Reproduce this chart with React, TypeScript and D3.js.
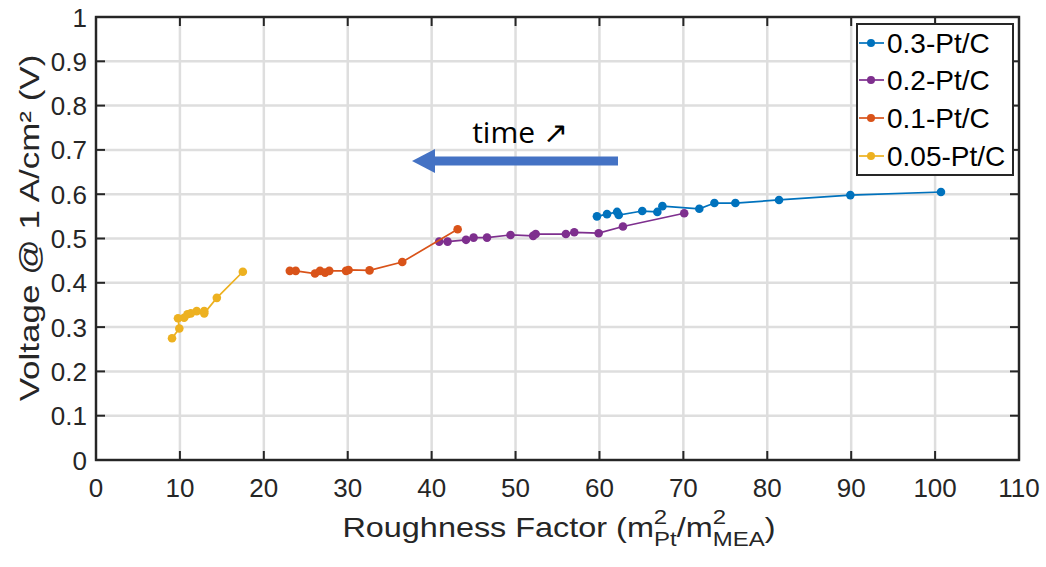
import React from "react";
import * as d3 from "d3";

const xTicks = [0, 10, 20, 30, 40, 50, 60, 70, 80, 90, 100, 110];
const yTicks = [0, 0.1, 0.2, 0.3, 0.4, 0.5, 0.6, 0.7, 0.8, 0.9, 1];

const s03x = [59.7, 60.9, 62.1, 62.3, 65.1, 66.9, 67.5, 71.9, 73.7, 76.2, 81.4, 89.9, 100.7];
const s03y = [0.55, 0.555, 0.56, 0.553, 0.562, 0.56, 0.573, 0.567, 0.58, 0.58, 0.587, 0.598, 0.605];

const s02x = [40.9, 41.9, 44.1, 45.0, 46.6, 49.4, 52.1, 52.4, 56.0, 57.0, 59.9, 62.8, 70.1];
const s02y = [0.493, 0.493, 0.497, 0.502, 0.502, 0.508, 0.506, 0.51, 0.51, 0.514, 0.512, 0.527, 0.557];

const s01x = [23.1, 23.8, 26.1, 26.7, 27.3, 27.8, 29.8, 30.1, 32.6, 36.5, 43.1];
const s01y = [0.427, 0.427, 0.421, 0.427, 0.423, 0.427, 0.427, 0.429, 0.428, 0.447, 0.521];

const s005x = [17.5, 14.4, 12.9, 12.9, 12.0, 11.3, 10.9, 10.5, 9.77, 9.93, 9.06];
const s005y = [0.425, 0.366, 0.331, 0.336, 0.336, 0.331, 0.329, 0.321, 0.32, 0.297, 0.275];

const seriesNames = ["0.3-Pt/C", "0.2-Pt/C", "0.1-Pt/C", "0.05-Pt/C"];
const seriesColors = ["#0072BD", "#7E2F8E", "#D95319", "#EDB120"];

const series = [
  { name: seriesNames[0], color: seriesColors[0], xs: s03x, ys: s03y },
  { name: seriesNames[1], color: seriesColors[1], xs: s02x, ys: s02y },
  { name: seriesNames[2], color: seriesColors[2], xs: s01x, ys: s01y },
  { name: seriesNames[3], color: seriesColors[3], xs: s005x, ys: s005y },
];

const FONT = "'Liberation Sans', Arial, Helvetica, sans-serif";

export default function App() {
  const left = 96, right = 1019, top = 17, bottom = 460;
  const x = d3.scaleLinear().domain([0, 110]).range([left, right]);
  const y = d3.scaleLinear().domain([0, 1]).range([bottom, top]);
  const line = d3.line<[number, number]>().x((d) => x(d[0])).y((d) => y(d[1]));
  const tickLen = 9;
  const fs = 26;

  const legX = 857, legY = 24, legW = 156, legH = 151;
  const rowYs = [43, 80, 118, 156];

  return (
    <svg width={1046} height={567} style={{ position: "absolute", left: 0, top: 0, background: "#fff" }}
      fontFamily={FONT}>
      <rect x={0} y={0} width={1046} height={567} fill="#fff" />
      {/* grid */}
      {xTicks.map((t) => (
        <line key={"gx" + t} x1={x(t)} x2={x(t)} y1={top} y2={bottom} stroke="#dedede" strokeWidth={2.5} />
      ))}
      {yTicks.map((t) => (
        <line key={"gy" + t} x1={left} x2={right} y1={y(t)} y2={y(t)} stroke="#dedede" strokeWidth={2.5} />
      ))}
      {/* ticks */}
      {xTicks.map((t) => (
        <g key={"tx" + t}>
          <line x1={x(t)} x2={x(t)} y1={bottom} y2={bottom - tickLen} stroke="#262626" strokeWidth={2} />
          <line x1={x(t)} x2={x(t)} y1={top} y2={top + tickLen} stroke="#262626" strokeWidth={2} />
          <text x={x(t)} y={bottom + 37} textAnchor="middle" fontSize={fs} fill="#262626">{t}</text>
        </g>
      ))}
      {yTicks.map((t) => (
        <g key={"ty" + t}>
          <line x1={left} x2={left + tickLen} y1={y(t)} y2={y(t)} stroke="#262626" strokeWidth={2} />
          <line x1={right} x2={right - tickLen} y1={y(t)} y2={y(t)} stroke="#262626" strokeWidth={2} />
          <text x={left - 9} y={y(t) + 9.5} textAnchor="end" fontSize={fs} fill="#262626">{d3.format("~g")(t)}</text>
        </g>
      ))}
      {/* frame */}
      <rect x={left} y={top} width={right - left} height={bottom - top} fill="none" stroke="#262626" strokeWidth={2.4} />

      {/* series */}
      {series.map((s) => {
        const pts = s.xs.map((v, i) => [v, s.ys[i]] as [number, number]);
        return (
          <g key={s.name}>
            <path d={line(pts) || ""} fill="none" stroke={s.color} strokeWidth={1.7} />
            {pts.map((p, i) => (
              <circle key={i} cx={x(p[0])} cy={y(p[1])} r={4.3} fill={s.color} />
            ))}
          </g>
        );
      })}

      {/* annotation */}
      <text x={520} y={143} textAnchor="middle" fontSize={30} fill="#000" fontFamily="'Open Sans', 'Noto Sans', sans-serif">time ↗</text>
      <line x1={618} x2={430} y1={161} y2={161} stroke="#4472C4" strokeWidth={9} />
      <polygon points="412,161 435,149 435,173" fill="#4472C4" />

      {/* legend */}
      <rect x={legX} y={legY} width={legW} height={legH} fill="#fff" stroke="#262626" strokeWidth={2} />
      {series.map((s, i) => (
        <g key={"leg" + i}>
          <line x1={legX + 2} x2={legX + 27} y1={rowYs[i]} y2={rowYs[i]} stroke={s.color} strokeWidth={1.7} />
          <circle cx={legX + 14} cy={rowYs[i]} r={4} fill={s.color} />
          <text x={legX + 30} y={rowYs[i] + 10} fontSize={28} fill="#000">{s.name}</text>
        </g>
      ))}

      {/* axis labels */}
      <g transform="translate(559,537) scale(1.2,1)">
        <text x={0} y={0} textAnchor="middle" fontSize={27} fill="#262626">
          Roughness Factor (m
          <tspan fontSize={20} dy={-13}>2</tspan>
          <tspan fontSize={20} dx={-11} dy={22}>Pt</tspan>
          <tspan dy={-9}>/m</tspan>
          <tspan fontSize={20} dy={-13}>2</tspan>
          <tspan fontSize={20} dx={-11} dy={22}>MEA</tspan>
          <tspan dy={-9}>)</tspan>
        </text>
      </g>
      <g transform="translate(39,228) rotate(-90) scale(1.25,1)">
        <text x={0} y={0} textAnchor="middle" fontSize={28} fill="#262626">
          Voltage @ 1 A/cm² (V)
        </text>
      </g>
    </svg>
  );
}
